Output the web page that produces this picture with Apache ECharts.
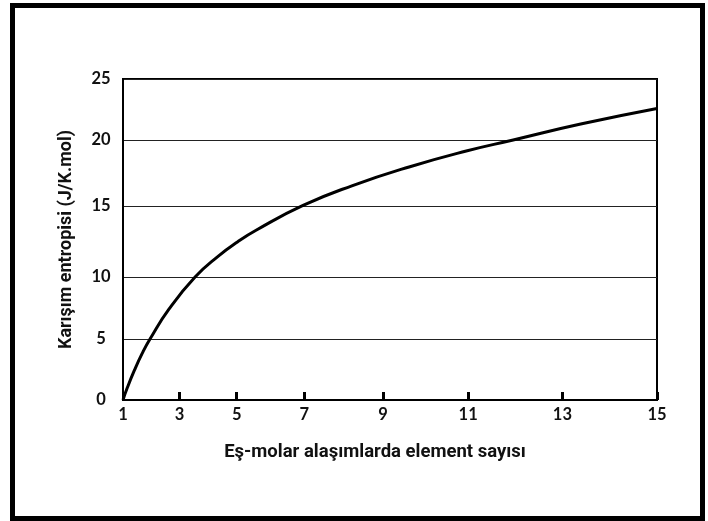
<!DOCTYPE html>
<html>
<head>
<meta charset="utf-8">
<script src="https://cdn.jsdelivr.net/npm/echarts@6/dist/echarts.min.js"></script>
<style>html,body{margin:0;padding:0;background:#fff}#c{width:708px;height:521px}</style>
</head>
<body>
<div id="c"></div>
<script>
// Curve (x in linear axis units, y in entropy units)
const curveX = [1, 1.1, 1.3, 1.5, 1.708, 2.2, 2.89, 3.5, 4.0, 4.5, 5.72, 7, 8.5, 10, 11.23, 13, 15];
const curveY = [0, 0.85, 2.32, 3.61, 4.75, 7.06, 9.58, 11.21, 12.31, 13.24, 15.15, 16.68, 18.15, 19.39, 20.25, 21.49, 22.70];
// x tick labels and where they sit along the axis
const xTickLabels = ['1', '3', '5', '7', '9', '11', '13', '15'];
const xTickAt = [1, 2.48, 3.98, 5.75, 7.82, 10.05, 12.52, 15];
// y tick labels and where they sit along the axis
const yTickLabels = ['0', '5', '10', '15', '20', '25'];
const yTickAt = [0, 4.75, 9.58, 15.11, 20.25, 25];

const xName = 'Eş-molar alaşımlarda element sayısı';
const yName = 'Karışım entropisi (J/K.mol)';

function nearestLabel(v, at, labels) {
  let best = 0, d = Infinity;
  at.forEach((a, i) => { if (Math.abs(a - v) < d) { d = Math.abs(a - v); best = i; } });
  return labels[best];
}

const chart = echarts.init(document.getElementById('c'), null, {renderer: 'canvas'});
chart.setOption({
  animation: false,
  backgroundColor: '#fff',
  grid: {left: 123, top: 79, width: 534, height: 321, show: true, borderColor: '#000', borderWidth: 2, outerBoundsMode: 'none'},
  graphic: [{
    type: 'rect', shape: {x: 12.5, y: 5.5, width: 690, height: 513},
    style: {fill: 'none', stroke: '#000', lineWidth: 5}, silent: true
  }],
  xAxis: {
    type: 'value', min: 1, max: 15,
    name: xName, nameLocation: 'middle', nameGap: 43,
    nameTextStyle: {fontFamily: 'Roboto', fontWeight: 'bold', fontSize: 18.5, color: '#111', padding: [0, 30, 0, 0]},
    axisLine: {show: true, lineStyle: {color: '#000', width: 2}},
    axisTick: {show: true, inside: true, length: 8, lineStyle: {color: '#000', width: 3}, customValues: xTickAt},
    axisLabel: {
      customValues: xTickAt, margin: 6, color: '#111',
      fontFamily: 'Lato', fontWeight: 'bold', fontSize: 16.5,
      formatter: v => nearestLabel(v, xTickAt, xTickLabels)
    },
    splitLine: {show: false}
  },
  yAxis: {
    type: 'value', min: 0, max: 25,
    name: yName, nameLocation: 'middle', nameGap: 48, nameRotate: 90,
    nameTextStyle: {fontFamily: 'Roboto', fontWeight: 'bold', fontSize: 18, color: '#111', padding: [0, 0, 0, 0]},
    axisLine: {show: true, lineStyle: {color: '#000', width: 2}},
    axisTick: {show: false, customValues: yTickAt},
    axisLabel: {
      customValues: yTickAt, margin: 22, align: 'center', color: '#111',
      fontFamily: 'Lato', fontWeight: 'bold', fontSize: 16.5,
      formatter: v => nearestLabel(v, yTickAt, yTickLabels)
    },
    splitLine: {show: true, lineStyle: {color: '#222', width: 1}}
  },
  series: [{
    type: 'line', smooth: 0.5, symbol: 'none',
    data: curveX.map((x, i) => [x, curveY[i]]),
    lineStyle: {color: '#000', width: 3}
  }]
});
</script>
</body>
</html>
